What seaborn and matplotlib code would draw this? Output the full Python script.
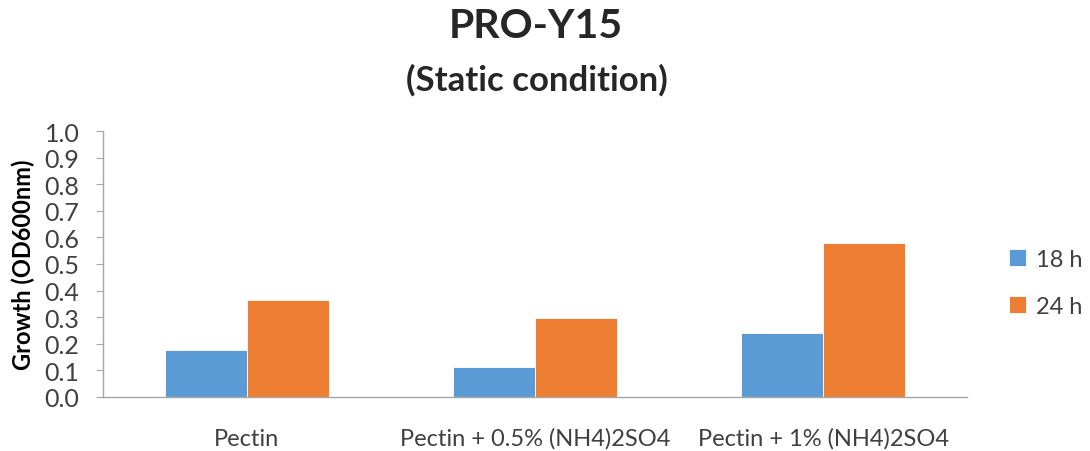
import matplotlib
matplotlib.use("Agg")
import matplotlib.pyplot as plt
import seaborn as sns
import pandas as pd

categories = ["Pectin", "Pectin + 0.5% (NH4)2SO4", "Pectin + 1% (NH4)2SO4"]
series_names = ["18 h", "24 h"]
values_18h = [0.178, 0.112, 0.241]
values_24h = [0.366, 0.298, 0.578]
y_ticks = [0.0, 0.1, 0.2, 0.3, 0.4, 0.5, 0.6, 0.7, 0.8, 0.9, 1.0]

df = pd.DataFrame({
    "Category": categories * 2,
    "Series": [series_names[0]] * 3 + [series_names[1]] * 3,
    "Value": values_18h + values_24h,
})

sns.set_style("white")
plt.rcParams['font.family'] = ['Lato', 'DejaVu Sans']

fig = plt.figure(figsize=(10.9, 4.52), dpi=100)
ax = fig.add_axes([103 / 1090, 1 - 398 / 452, (967 - 103) / 1090, (398 - 132) / 452])

palette = {"18 h": "#5B9BD5", "24 h": "#ED7D31"}
sns.barplot(data=df, x="Category", y="Value", hue="Series", order=categories,
            hue_order=series_names, palette=palette, width=0.57, gap=0,
            edgecolor="white", linewidth=0.6, saturation=1, errorbar=None, ax=ax)

ax.set_xlim(-0.5, 2.5)
ax.set_ylim(0, 1.0)
ax.set_yticks(y_ticks)
ax.set_yticklabels([f"{t:.1f}" for t in y_ticks], fontsize=18, color="#404040")
ax.tick_params(axis="x", labelsize=17, labelcolor="#404040", length=0, pad=22)
ax.tick_params(axis="y", length=5, width=0.8, color="#A6A6A6", left=True, pad=12)
for s in ["top", "right"]:
    ax.spines[s].set_visible(False)
for s in ["left", "bottom"]:
    ax.spines[s].set_color("#A6A6A6")
    ax.spines[s].set_linewidth(1.0)

ax.set_xlabel("")
ax.set_ylabel("Growth (OD600nm)", fontsize=17, fontweight="bold", color="black", labelpad=7)

handles, labels = ax.get_legend_handles_labels()
ax.legend(handles, labels, loc="center left", bbox_to_anchor=(1.049, 0.43),
          frameon=False, fontsize=17, handlelength=0.7, handleheight=0.7,
          borderaxespad=0, borderpad=0,
          labelspacing=1.1, handletextpad=0.45, labelcolor="#404040")

fig.text(536 / 1090, 1 - 27 / 452, "PRO-Y15", ha="center", va="center",
         fontsize=29.5, fontweight="bold")
fig.text(537 / 1090, 1 - 80 / 452, "(Static condition)", ha="center", va="center",
         fontsize=25, fontweight="bold")

fig.savefig("out.png", dpi=100)
